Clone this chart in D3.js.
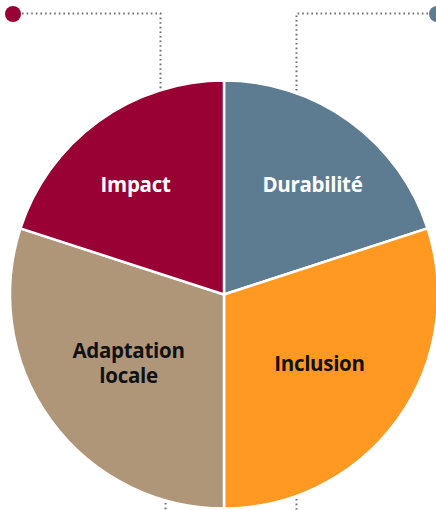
<!DOCTYPE html>
<html>
<head>
<meta charset="utf-8">
<script src="https://cdn.jsdelivr.net/npm/d3@7"></script>
<style>
  body { margin: 0; background: #fff; }
  svg { display: block; }
  .lbl { font-family: 'Open Sans', Lato, sans-serif; font-weight: bold; font-size: 20.5px; letter-spacing: -0.3px; }
</style>
</head>
<body>
<svg id="canvas"></svg>
<script>
let width = 436,
height = 510

// slice data, clockwise from the top
let categories = ['Durabilité', 'Inclusion', 'Adaptation locale', 'Impact']
let values = [20, 30, 30, 20]
let colors = ['#5E7C91', '#FF9922', '#B09679', '#990033']
let textColors = ['#fff', '#111', '#111', '#fff']

let canvas = d3.select('#canvas')
.attr('width', width)
.attr('height', height)

let cx = 224, cy = 294.5, radius = 214

let pie = d3.pie().sort(null).value((d) => d.value)
let arcs = pie(categories.map((c, i) => ({ name: c, value: values[i], i: i })))

let arc = d3.arc().innerRadius(0).outerRadius(radius)

let g = canvas.append('g').attr('transform', `translate(${cx}, ${cy})`)

g.selectAll('path')
.data(arcs)
.join('path')
.attr('d', arc)
.attr('fill', (d) => colors[d.data.i])
.attr('stroke', '#fff')
.attr('stroke-width', 2.5)

// labels: small slices sit further out
let labels = g.selectAll('text')
.data(arcs)
.join('text')
.attr('class', 'lbl')
.attr('text-anchor', 'middle')
.attr('fill', (d) => textColors[d.data.i])
.attr('transform', (d) => {
    let mid = (d.startAngle + d.endAngle) / 2
    let small = (d.endAngle - d.startAngle) < 1.5
    let r = small ? 141 : 118
    if (small) mid += Math.sin(mid) > 0 ? 0.05 : -0.05
    return `translate(${Math.sin(mid) * r}, ${-Math.cos(mid) * r})`
})

labels.each(function (d) {
    let words = d.data.name.split(' ')
    let t = d3.select(this)
    let start = -(words.length - 1) * 12.5 + 7
    words.forEach((w, k) => {
        t.append('tspan').attr('x', 0).attr('y', start + k * 25).text(w)
    })
})

// dotted connectors
let dotted = (pts) => {
    canvas.append('path')
    .attr('d', d3.line()(pts))
    .attr('fill', 'none')
    .attr('stroke', '#6f6f6f')
    .attr('stroke-width', 2)
    .attr('stroke-dasharray', '1.6 3')
}

dotted([[22, 13.5], [160.5, 13.5], [160.5, 89]])
dotted([[428, 13.5], [296.5, 13.5], [296.5, 91]])
dotted([[165.5, 503], [165.5, 512]])
dotted([[296.5, 499], [296.5, 512]])

canvas.append('circle').attr('cx', 13).attr('cy', 14).attr('r', 8).attr('fill', colors[3])
canvas.append('circle').attr('cx', 437).attr('cy', 14).attr('r', 8).attr('fill', colors[0])
</script>
</body>
</html>
